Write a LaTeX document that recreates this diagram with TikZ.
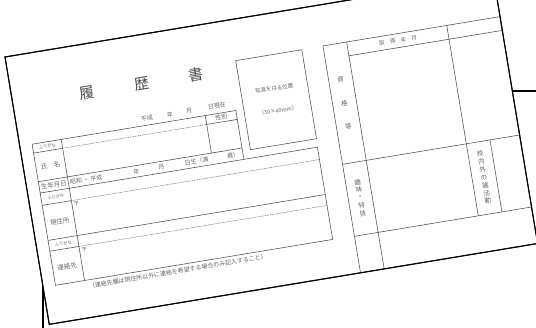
\documentclass[tikz,border=0pt]{standalone}
\usepackage{fontspec}
\newfontfamily\cjk{Noto Sans CJK JP}

\begin{document}
\begin{tikzpicture}[
    x=1pt, y=-1pt,
    every node/.style={font=\cjk\fontsize{6}{6}\selectfont, text=black!60, inner sep=0pt},
    sheet/.style={draw=black, line width=1pt, fill=white},
    rule/.style={draw=black!70, line width=0.55pt},
    dots/.style={draw=black!55, line width=0.5pt, dash pattern=on 1pt off 0.7pt},
    headtext/.style={font=\cjk\fontsize{15}{15}\selectfont, text=black!70},
    tagtext/.style={font=\cjk\fontsize{6.5}{6.5}\selectfont},
    smalltext/.style={font=\cjk\fontsize{5.5}{5.5}\selectfont},
    tinytext/.style={font=\cjk\fontsize{4.3}{4.3}\selectfont},
]
\useasboundingbox (0,0) rectangle (536,328);
\clip (0,0) rectangle (536,328);

% Paper underneath
\draw[line width=1.3pt, fill=white] (43,91) rectangle (600,400);

\begin{scope}[shift={(5,57)}, rotate=9.4, transform shape]

% Sheet
\path[sheet] (0,0) rectangle (495,271);

% Title
\node[headtext] (ri) at (75.5,48.5) {履};
\node[headtext] (reki) at (130.6,48.5) {歴};
\node[headtext] (sho) at (186,48.5) {書};

% Date line
\node (era) at (130,83.5) {平成};
\node (yr) at (153.4,83.5) {年};
\node (mo) at (172.7,83.5) {月};
\node (asof) at (201,83) {日現在};

% Name table
\draw[rule] (12.5,90.5) -- (219,90.5) -- (219,140);
\draw[rule] (12.5,90.5) -- (12.5,233.5) -- (293.5,233.5) -- (293.5,140) -- (12.5,140);
\draw[rule] (42,90.5) -- (42,233.5);
\draw[rule] (188,90.5) -- (188,128.5);
\draw[rule] (12.5,128.5) -- (219,128.5);
\draw[rule] (12.5,99.5) -- (42,99.5) (188,99.5) -- (219,99.5);
\draw[dots] (42,99.5) -- (188,99.5);

% Address box
\draw[rule] (12.5,152.5) -- (42,152.5);
\draw[dots] (42,152.5) -- (293.5,152.5);
\draw[rule] (12.5,188) -- (293.5,188);
\draw[rule] (12.5,199) -- (42,199);
\draw[dots] (42,199) -- (293.5,199);

% Row labels
\node[tinytext] (kana1) at (27.2,95) {ふりがな};
\node[tagtext] (name) at (27.2,114.5) {氏　名};
\node[tagtext] (birth) at (27.2,134.3) {生年月日};
\node[tinytext] (kana2) at (27.2,146.3) {ふりがな};
\node[tagtext] (home) at (27.2,171) {現住所};
\node[tinytext] (kana3) at (27.2,193.5) {ふりがな};
\node[tagtext] (contact) at (27.2,216.5) {連絡先};
\node (sex) at (203.5,95) {性別};

% Birth date row
\node (eras) at (60,134.3) {昭和 ・ 平成};
\node (byr) at (111,134.3) {年};
\node (bmo) at (136.5,134.3) {月};
\node (bday) at (172,134.3) {日生（満};
\node (age) at (209,134.3) {歳）};
\node (zip1) at (46.5,157) {〒};
\node (zip2) at (47,203.5) {〒};
\node (note) at (135.5,239.5) {（連絡先欄は現住所以外に連絡を希望する場合のみ記入すること）};

% Photo
\draw[rule] (227,41.3) rectangle (294,131.5);
\node[smalltext] (photo) at (260.5,75) {写真をはる位置};
\node[smalltext] (size) at (260.5,97.5) {（30×40mm）};

% Licence table
\draw[rule] (315.5,41) -- (495,41);
\draw[rule] (339.5,55) -- (495,55);
\draw[rule] (315.5,41) -- (315.5,271);
\draw[rule] (339.5,41) -- (339.5,271);
\draw[rule] (441,41) -- (441,234);
\draw[rule] (465,161) -- (465,234);
\draw[rule] (315.5,161) -- (495,161);
\draw[rule] (315.5,234) -- (495,234);

\node[smalltext] (got) at (390.5,48) {取　得　年　月};
\foreach \c [count=\i] in {資,格,等}
  \node[tagtext] (qual\i) at (327.3,53+24*\i) {\c};
\foreach \c [count=\i] in {趣,味,・,特,技}
  \node[tagtext] (hob\i) at (327.6,173+8*\i) {\c};
\foreach \c [count=\i] in {校,内,外,の,諸,活,動}
  \node[tagtext] (act\i) at (453,165+8*\i) {\c};

% Sheet edge on top
\draw[line width=1pt] (0,0) rectangle (495,271);
\end{scope}
\end{tikzpicture}
\end{document}
